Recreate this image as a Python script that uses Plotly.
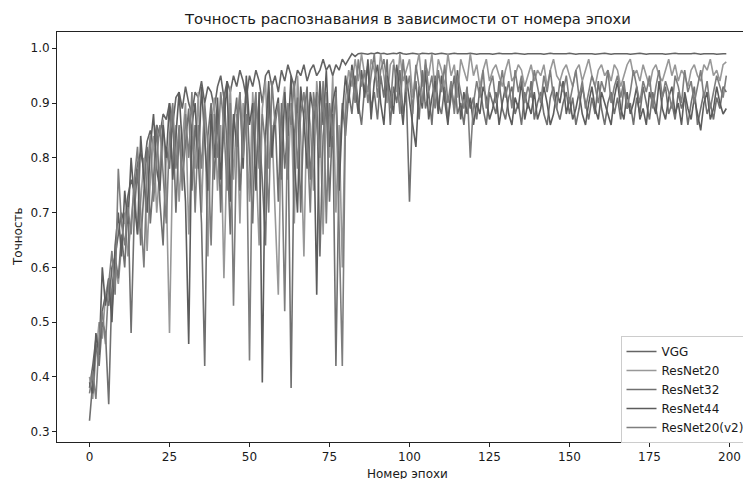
import plotly.graph_objects as go

epochs = list(range(200))

vgg = [
    0.38, 0.42, 0.47, 0.45, 0.52, 0.55, 0.53, 0.60, 0.62, 0.66,
    0.70, 0.68, 0.73, 0.76, 0.74, 0.79, 0.81, 0.78, 0.83, 0.85,
    0.82, 0.86, 0.84, 0.88, 0.87, 0.90, 0.86, 0.91, 0.92, 0.89,
    0.93, 0.90, 0.88, 0.92, 0.91, 0.94, 0.90, 0.93, 0.92, 0.89,
    0.93, 0.95, 0.91, 0.94, 0.92, 0.95, 0.93, 0.96, 0.94, 0.91,
    0.95, 0.93, 0.96, 0.94, 0.90, 0.95, 0.96, 0.93, 0.95, 0.92,
    0.96, 0.94, 0.97, 0.95, 0.93, 0.96, 0.95, 0.97, 0.94, 0.96,
    0.97, 0.95, 0.96, 0.98, 0.96, 0.97, 0.95, 0.97, 0.96, 0.98,
    0.97, 0.98, 0.99, 0.985, 0.99, 0.991, 0.99, 0.989, 0.991, 0.99,
    0.992, 0.99, 0.991, 0.989, 0.99, 0.991, 0.99, 0.992, 0.99, 0.989,
    0.99, 0.991, 0.99, 0.989, 0.991, 0.99, 0.99, 0.991, 0.989, 0.99,
    0.991, 0.99, 0.989, 0.99, 0.991, 0.99, 0.99, 0.989, 0.99, 0.991,
    0.99, 0.989, 0.99, 0.99, 0.991, 0.99, 0.989, 0.99, 0.991, 0.99,
    0.99, 0.989, 0.99, 0.991, 0.99, 0.99, 0.989, 0.99, 0.99, 0.991,
    0.99, 0.99, 0.989, 0.99, 0.991, 0.99, 0.99, 0.989, 0.99, 0.99,
    0.991, 0.99, 0.989, 0.99, 0.99, 0.991, 0.99, 0.99, 0.989, 0.99,
    0.99, 0.991, 0.99, 0.989, 0.99, 0.99, 0.991, 0.99, 0.99, 0.989,
    0.99, 0.99, 0.991, 0.99, 0.989, 0.99, 0.99, 0.991, 0.99, 0.99,
    0.989, 0.99, 0.99, 0.991, 0.99, 0.99, 0.989, 0.99, 0.99, 0.991,
    0.99, 0.989, 0.99, 0.99, 0.991, 0.99, 0.989, 0.99, 0.99, 0.99,
]

resnet20 = [
    0.40, 0.36, 0.44, 0.50, 0.47, 0.55, 0.58, 0.52, 0.60, 0.57,
    0.64, 0.70, 0.62, 0.68, 0.75, 0.66, 0.72, 0.80, 0.63, 0.76,
    0.84, 0.70, 0.78, 0.87, 0.74, 0.48, 0.80, 0.86, 0.72, 0.83,
    0.90, 0.66, 0.84, 0.78, 0.92, 0.70, 0.88, 0.62, 0.85, 0.91,
    0.74, 0.86, 0.58, 0.82, 0.93, 0.76, 0.88, 0.68, 0.90, 0.84,
    0.72, 0.92, 0.80, 0.64, 0.89, 0.94, 0.78, 0.86, 0.70, 0.55,
    0.88, 0.93, 0.76, 0.90, 0.68, 0.95, 0.84, 0.62, 0.91, 0.86,
    0.74, 0.94, 0.88, 0.66, 0.92, 0.80, 0.95, 0.70, 0.86, 0.60,
    0.91, 0.96, 0.93, 0.98, 0.94, 0.99, 0.95, 0.92, 0.98, 0.96,
    0.93, 0.99, 0.95, 0.90, 0.97, 0.98, 0.92, 0.99, 0.94, 0.96,
    0.98, 0.91, 0.96, 0.99, 0.93, 0.97, 0.95, 0.99, 0.92, 0.98,
    0.96, 0.93, 0.99, 0.95, 0.97, 0.91, 0.98, 0.96, 0.94, 0.99,
    0.95, 0.97, 0.93, 0.96, 0.98, 0.94, 0.96, 0.97, 0.95, 0.93,
    0.96, 0.98, 0.94, 0.95, 0.97, 0.96, 0.93, 0.95, 0.97, 0.94,
    0.96, 0.95, 0.97, 0.93, 0.96, 0.98, 0.95, 0.94, 0.96, 0.97,
    0.95, 0.93, 0.96, 0.97, 0.94, 0.96, 0.98, 0.95, 0.93, 0.96,
    0.97, 0.95, 0.96, 0.94, 0.97, 0.96, 0.93, 0.95, 0.97, 0.98,
    0.95, 0.96, 0.94, 0.97, 0.95, 0.93, 0.96, 0.97, 0.95, 0.94,
    0.96, 0.98, 0.95, 0.97, 0.94, 0.96, 0.95, 0.93, 0.96, 0.97,
    0.95, 0.94, 0.97, 0.96, 0.98, 0.95, 0.96, 0.94, 0.97, 0.975,
]

resnet32 = [
    0.32, 0.39, 0.46, 0.42, 0.50, 0.48, 0.35, 0.56, 0.62, 0.58,
    0.66, 0.60, 0.72, 0.48, 0.70, 0.78, 0.64, 0.74, 0.82, 0.68,
    0.76, 0.86, 0.72, 0.64, 0.82, 0.78, 0.88, 0.70, 0.85, 0.76,
    0.82, 0.89, 0.74, 0.86, 0.80, 0.68, 0.42, 0.84, 0.90, 0.76,
    0.88, 0.70, 0.92, 0.82, 0.66, 0.86, 0.91, 0.74, 0.83, 0.93,
    0.80, 0.68, 0.90, 0.85, 0.76, 0.64, 0.92, 0.82, 0.88, 0.72,
    0.90, 0.78, 0.86, 0.38, 0.84, 0.91, 0.70, 0.88, 0.93, 0.76,
    0.86, 0.92, 0.62, 0.84, 0.90, 0.72, 0.88, 0.42, 0.78, 0.90,
    0.84, 0.92, 0.88, 0.95, 0.90, 0.86, 0.93, 0.97, 0.89, 0.92,
    0.87, 0.95, 0.91, 0.98, 0.86, 0.93, 0.90, 0.96, 0.88, 0.92,
    0.72, 0.90, 0.94, 0.87, 0.96, 0.89, 0.92, 0.86, 0.95, 0.90,
    0.88, 0.93, 0.87, 0.91, 0.95, 0.88, 0.90, 0.86, 0.92, 0.89,
    0.91, 0.87, 0.93, 0.89, 0.86, 0.92, 0.90, 0.88, 0.94, 0.89,
    0.87, 0.91, 0.93, 0.88, 0.90, 0.86, 0.92, 0.89, 0.94, 0.87,
    0.90, 0.92, 0.88, 0.86, 0.91, 0.93, 0.89, 0.87, 0.90, 0.92,
    0.88, 0.91, 0.86, 0.89, 0.93, 0.90, 0.87, 0.91, 0.88, 0.94,
    0.89, 0.86, 0.90, 0.92, 0.88, 0.91, 0.87, 0.93, 0.89, 0.90,
    0.86, 0.91, 0.88, 0.93, 0.90, 0.87, 0.92, 0.89, 0.86, 0.91,
    0.93, 0.88, 0.90, 0.87, 0.92, 0.89, 0.91, 0.86, 0.90, 0.93,
    0.86, 0.89, 0.92, 0.88, 0.90, 0.87, 0.91, 0.89, 0.93, 0.92,
]

resnet44 = [
    0.39, 0.37, 0.48, 0.44, 0.60, 0.53, 0.58, 0.50, 0.64, 0.70,
    0.62, 0.74, 0.68, 0.80, 0.72, 0.66, 0.84, 0.76, 0.70, 0.82,
    0.88, 0.78, 0.74, 0.86, 0.80, 0.90, 0.76, 0.84, 0.92, 0.82,
    0.72, 0.46, 0.86, 0.90, 0.78, 0.93, 0.84, 0.74, 0.88, 0.80,
    0.91, 0.76, 0.86, 0.94, 0.72, 0.88, 0.82, 0.92, 0.78, 0.95,
    0.86, 0.90, 0.74, 0.92, 0.39, 0.84, 0.94, 0.80, 0.88, 0.91,
    0.76, 0.92, 0.84, 0.95, 0.80, 0.70, 0.93, 0.87, 0.78, 0.92,
    0.88, 0.55, 0.94, 0.86, 0.96, 0.82, 0.90, 0.93, 0.74, 0.88,
    0.95, 0.90, 0.97, 0.93, 0.88, 0.96, 0.91, 0.98, 0.87, 0.94,
    0.97, 0.90, 0.86, 0.95, 0.92, 0.88, 0.97, 0.91, 0.86, 0.95,
    0.90, 0.86, 0.82, 0.93, 0.89, 0.96, 0.87, 0.91, 0.94, 0.88,
    0.95, 0.90, 0.86, 0.93, 0.89, 0.96, 0.87, 0.92, 0.88, 0.91,
    0.86, 0.90, 0.88, 0.93, 0.91, 0.87, 0.89, 0.92, 0.86, 0.90,
    0.93, 0.88, 0.86, 0.91, 0.89, 0.94, 0.87, 0.90, 0.88, 0.92,
    0.87, 0.89, 0.93, 0.90, 0.86, 0.88, 0.92, 0.90, 0.94, 0.88,
    0.91, 0.87, 0.89, 0.92, 0.88, 0.86, 0.90, 0.93, 0.89, 0.87,
    0.92, 0.90, 0.88, 0.86, 0.91, 0.94, 0.89, 0.87, 0.92, 0.88,
    0.90, 0.93, 0.87, 0.89, 0.86, 0.92, 0.90, 0.88, 0.94, 0.89,
    0.87, 0.91, 0.93, 0.88, 0.90, 0.86, 0.92, 0.89, 0.87, 0.91,
    0.88, 0.85, 0.90, 0.92, 0.87, 0.89, 0.93, 0.90, 0.88, 0.89,
]

resnet20_v2 = [
    0.37, 0.41, 0.36, 0.47, 0.52, 0.46, 0.57, 0.63, 0.55, 0.78,
    0.68, 0.64, 0.71, 0.66, 0.76, 0.82, 0.70, 0.60, 0.78, 0.84,
    0.72, 0.80, 0.86, 0.76, 0.68, 0.84, 0.90, 0.78, 0.86, 0.74,
    0.88, 0.80, 0.92, 0.70, 0.86, 0.78, 0.90, 0.82, 0.64, 0.88,
    0.80, 0.92, 0.86, 0.74, 0.90, 0.53, 0.84, 0.92, 0.80, 0.88,
    0.43, 0.86, 0.92, 0.78, 0.88, 0.82, 0.70, 0.94, 0.86, 0.90,
    0.82, 0.52, 0.90, 0.86, 0.94, 0.78, 0.88, 0.92, 0.84, 0.70,
    0.92, 0.86, 0.80, 0.94, 0.68, 0.90, 0.84, 0.92, 0.66, 0.42,
    0.88, 0.93, 0.96, 0.90, 0.98, 0.93, 0.96, 0.90, 0.95, 0.99,
    0.91, 0.96, 0.98, 0.93, 0.89, 0.97, 0.95, 0.88, 0.98, 0.92,
    0.95, 0.88, 0.97, 0.93, 0.90, 0.98, 0.92, 0.95, 0.89, 0.96,
    0.92, 0.97, 0.90, 0.94, 0.88, 0.95, 0.92, 0.89, 0.93, 0.80,
    0.90, 0.94, 0.91, 0.96, 0.89, 0.93, 0.95, 0.90, 0.92, 0.96,
    0.91, 0.94, 0.89, 0.96, 0.92, 0.95, 0.90, 0.93, 0.91, 0.96,
    0.93, 0.90, 0.95, 0.92, 0.96, 0.91, 0.89, 0.94, 0.92, 0.95,
    0.90, 0.93, 0.96, 0.91, 0.94, 0.89, 0.92, 0.95, 0.93, 0.90,
    0.94, 0.92, 0.96, 0.90, 0.93, 0.95, 0.91, 0.94, 0.89, 0.92,
    0.96, 0.93, 0.90, 0.94, 0.92, 0.95, 0.89, 0.93, 0.96, 0.91,
    0.94, 0.92, 0.89, 0.95, 0.93, 0.90, 0.96, 0.92, 0.94, 0.90,
    0.93, 0.96, 0.91, 0.94, 0.89, 0.92, 0.95, 0.93, 0.91, 0.95,
]

series_names = ["VGG", "ResNet20", "ResNet32", "ResNet44", "ResNet20(v2)"]
series_values = [vgg, resnet20, resnet32, resnet44, resnet20_v2]
series_colors = ["#646464", "#989898", "#707070", "#5c5c5c", "#7e7e7e"]

x_ticks = [0, 25, 50, 75, 100, 125, 150, 175, 200]
y_ticks = [0.3, 0.4, 0.5, 0.6, 0.7, 0.8, 0.9, 1.0]

title_text = "Точность распознавания в зависимости от номера эпохи"
x_title = "Номер эпохи"
y_title = "Точность"

FONT = "DejaVu Sans"
TXT = "#1a1a1a"

# the page body adds an 8px margin; work in page pixels and convert
OFF = 8
W, H = 751 - OFF, 479 - OFF
L, R, T, B = 49, 0, 24, 37
PW, PH = W - L - R, H - T - B


def px(xp):
    return (xp - OFF - L) / PW


def py(yp):
    return (H - B - (yp - OFF)) / PH


fig = go.Figure()
for name, vals, col in zip(series_names, series_values, series_colors):
    fig.add_trace(go.Scatter(
        x=epochs, y=vals, mode="lines", name=name,
        line=dict(color=col, width=1.6),
    ))

fig.update_layout(
    width=W, height=H,
    margin=dict(l=L, r=R, t=T, b=B, pad=0),
    paper_bgcolor="white", plot_bgcolor="white",
    font=dict(family=FONT, size=12, color=TXT),
    showlegend=True,
    legend=dict(
        x=px(620.5), y=py(336),
        xanchor="left", yanchor="top",
        bgcolor="rgba(255,255,255,0.85)", bordercolor="#cccccc", borderwidth=1,
        font=dict(family=FONT, size=12, color=TXT),
        tracegroupgap=0,
    ),
    xaxis=dict(
        range=[-10.16, 206.72], tickvals=x_ticks, ticktext=[str(v) for v in x_ticks],
        showgrid=False, zeroline=False, showline=True, linecolor="#222", linewidth=1,
        mirror=True, ticks="outside", ticklen=4, tickcolor="#222",
        tickfont=dict(family=FONT, size=12, color=TXT),
    ),
    yaxis=dict(
        range=[0.2812, 1.0297], tickvals=y_ticks, ticktext=[f"{v:.1f}" for v in y_ticks],
        showgrid=False, zeroline=False, showline=True, linecolor="#222", linewidth=1,
        ticks="outside", ticklen=4, tickcolor="#222",
        tickfont=dict(family=FONT, size=12, color=TXT),
    ),
    annotations=[
        dict(text=title_text, xref="paper", yref="paper",
             x=px(407.7), y=py(18.5),
             xanchor="center", yanchor="middle", showarrow=False,
             font=dict(family=FONT, size=14.8, color=TXT)),
        dict(text=x_title, xref="paper", yref="paper",
             x=px(407.7), y=py(474),
             xanchor="center", yanchor="middle", showarrow=False,
             font=dict(family=FONT, size=12, color=TXT)),
        dict(text=y_title, xref="paper", yref="paper",
             x=px(18), y=py(237),
             xanchor="center", yanchor="middle", showarrow=False, textangle=-90,
             font=dict(family=FONT, size=12, color=TXT)),
    ],
)

fig.write_html("out.html")
